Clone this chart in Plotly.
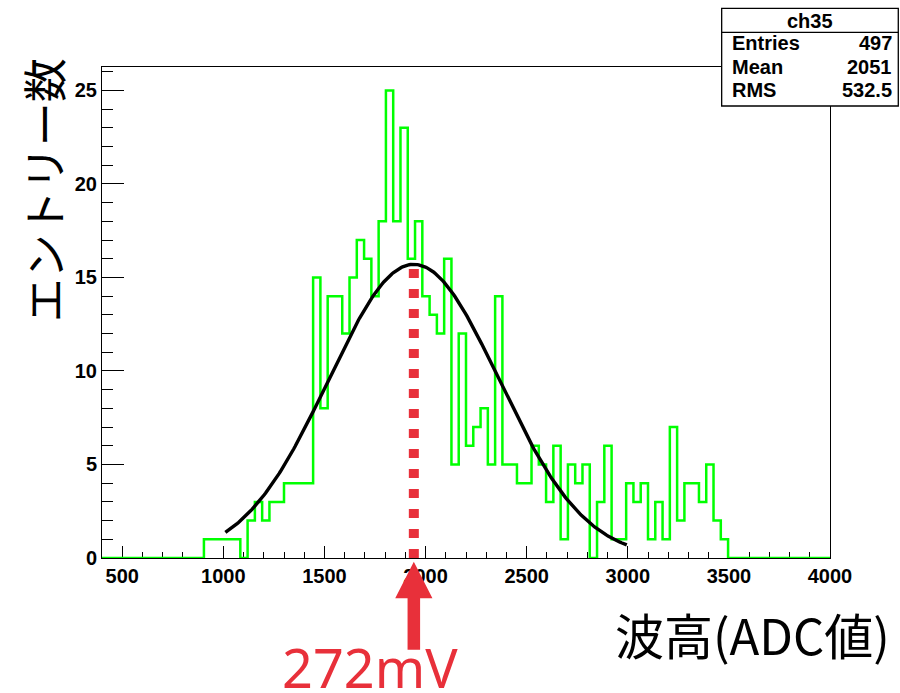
import numpy as np
import plotly.graph_objects as go

# Histogram "ch35": 100 bins between 400 and 4000 ADC counts
x_min, x_max, n_bins = 400, 4000, 100
counts = [
    0, 0, 0, 0, 0, 0, 0, 0, 0, 0, 0, 0, 0, 0,          # bins 0-13
    1, 1, 1, 1, 1, 0, 2, 3, 2, 3, 3, 4, 4, 4, 4,       # bins 14-28
    15, 8, 14, 14, 12, 15, 17, 16, 14, 18, 25, 18,     # bins 29-40
    23, 16, 18, 14, 13, 12, 16, 5, 12, 6, 7, 8, 5,     # bins 41-53
    14, 5, 5, 4, 4, 6, 5, 3, 6, 1, 5, 4, 5, 0, 3,      # bins 54-68
    6, 1, 1, 4, 3, 4, 1, 3, 1, 7, 2, 4, 4, 3, 5, 2, 1, # bins 69-85
    0, 0, 0, 0, 0, 0, 0, 0, 0, 0, 0, 0, 0, 0,          # bins 86-99
]

# Gaussian fit parameters and fit range
fit_const, fit_mean, fit_sigma = 15.7, 1942.0, 422.0
fit_lo, fit_hi = 1010.0, 2995.0

# Statistics box contents
stat_title = "ch35"
stat_names = ["Entries", "Mean", "RMS"]
stat_values = ["497", "2051", "532.5"]

peak_label = "272mV"
x_title = "波高(ADC値)"
y_title = "エントリー数"

x_ticks = [500, 1000, 1500, 2000, 2500, 3000, 3500, 4000]
y_ticks = [0, 5, 10, 15, 20, 25]

RED = "#e8303a"
GREEN = "#00ff00"

edges = np.linspace(x_min, x_max, n_bins + 1)
step_y = list(counts) + [counts[-1]]

fit_x = np.linspace(fit_lo, fit_hi, 300)
fit_y = fit_const * np.exp(-0.5 * ((fit_x - fit_mean) / fit_sigma) ** 2)

fig = go.Figure()
fig.add_trace(go.Scatter(
    x=edges, y=step_y, mode="lines", line_shape="hv",
    line=dict(color=GREEN, width=2.5), hoverinfo="skip", showlegend=False,
))
fig.add_trace(go.Scatter(
    x=fit_x, y=fit_y, mode="lines",
    line=dict(color="black", width=3.4), hoverinfo="skip", showlegend=False,
))

tick_font = dict(family="Liberation Sans, Arial", size=20, color="black", weight="bold")

fig.update_layout(
    width=900, height=693,
    margin=dict(l=102, r=70, t=67, b=135),
    paper_bgcolor="white", plot_bgcolor="white",
    xaxis=dict(
        range=[x_min, x_max], tickvals=x_ticks, ticks="inside", ticklen=12,
        tickcolor="black", tickwidth=1, tickfont=tick_font,
        showgrid=False, zeroline=False, showline=True, linecolor="black",
        linewidth=1, mirror=True, layer="below traces",
        minor=dict(tick0=0, dtick=100, ticks="inside", ticklen=6, tickcolor="black"),
    ),
    yaxis=dict(
        range=[0, 26.25], tickvals=y_ticks, ticks="inside", ticklen=22,
        tickcolor="black", tickwidth=1, tickfont=tick_font,
        showgrid=False, zeroline=False, showline=True, linecolor="black",
        linewidth=1, mirror=True, layer="below traces",
        minor=dict(tick0=0, dtick=1, ticks="inside", ticklen=11, tickcolor="black"),
    ),
)

# Dashed marker from the axis up to the fitted peak
peak_y = fit_const
fig.add_shape(
    type="line", xref="x", yref="y", x0=fit_mean, x1=fit_mean, y0=0, y1=peak_y,
    line=dict(color=RED, width=10, dash="9px,11px"), layer="above",
)

# Arrow under the axis pointing at the fitted peak
head_hw, shaft_hw = 92, 31
y_tip, y_base, y_bot = -0.0075, -0.082, -0.187
xm = fit_mean
arrow_path = (
    f"M {xm - head_hw},{y_base} L {xm},{y_tip} L {xm + head_hw},{y_base} "
    f"L {xm + shaft_hw},{y_base} L {xm + shaft_hw},{y_bot} "
    f"L {xm - shaft_hw},{y_bot} L {xm - shaft_hw},{y_base} Z"
)
fig.add_shape(type="path", xref="x", yref="paper", path=arrow_path,
              fillcolor=RED, line=dict(width=0), layer="above")

fig.add_annotation(
    text=peak_label, xref="paper", yref="paper", x=0.368, y=-0.221,
    xanchor="center", yanchor="middle", showarrow=False,
    font=dict(family="Noto Sans", size=54, color=RED),
)
fig.add_annotation(
    text=x_title, xref="paper", yref="paper", x=0.894, y=-0.153,
    xanchor="center", yanchor="middle", showarrow=False,
    font=dict(family="Noto Sans CJK JP", size=49, color="black"),
)
fig.add_annotation(
    text=y_title, xref="paper", yref="paper", x=-0.081, y=0.749,
    xanchor="center", yanchor="middle", showarrow=False, textangle=-90,
    font=dict(family="Noto Sans CJK JP", size=44, color="black"),
)

# Statistics box
bx0, bx1, by0, by1, bsep = 0.8512, 1.0938, 0.9206, 1.1196, 1.0707
fig.add_shape(type="rect", xref="paper", yref="paper", x0=bx0, x1=bx1, y0=by0, y1=by1,
              fillcolor="white", line=dict(color="black", width=1.3), layer="above")
fig.add_shape(type="line", xref="paper", yref="paper", x0=bx0, x1=bx1, y0=bsep, y1=bsep,
              line=dict(color="black", width=1.3), layer="above")
stat_font = dict(family="Liberation Sans, Arial", size=20, color="black", weight="bold")
fig.add_annotation(text=stat_title, xref="paper", yref="paper", x=(bx0 + bx1) / 2,
                   y=1.0943, xanchor="center", yanchor="middle", showarrow=False,
                   font=stat_font)
row_y = [1.0483, 1.0006, 0.9532]
for name, val, yy in zip(stat_names, stat_values, row_y):
    fig.add_annotation(text=name, xref="paper", yref="paper", x=0.863, y=yy,
                       xanchor="left", yanchor="middle", showarrow=False, font=stat_font)
    fig.add_annotation(text=val, xref="paper", yref="paper", x=1.088, y=yy,
                       xanchor="right", yanchor="middle", showarrow=False, font=stat_font)

fig.write_html("out.html")
